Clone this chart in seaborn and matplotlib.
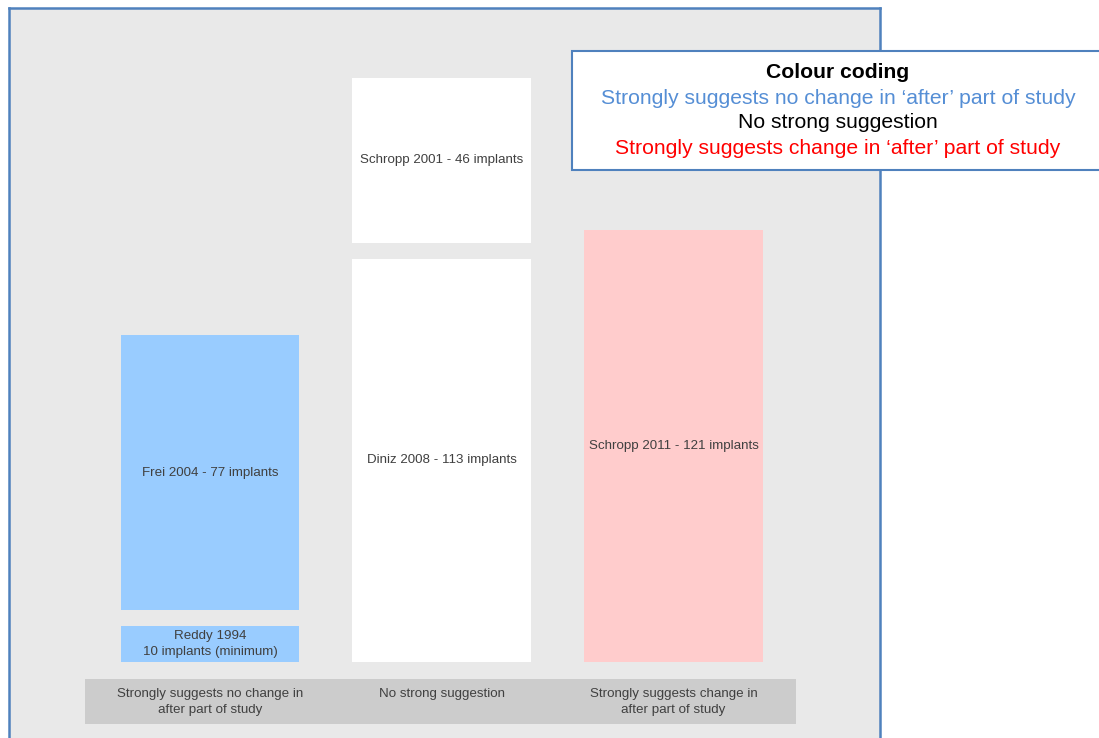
import matplotlib
matplotlib.use("Agg")
import matplotlib.pyplot as plt
from matplotlib.patches import Rectangle
import pandas as pd
import seaborn as sns

# Evidence groups and the studies stacked in each column
categories = [
    "Strongly suggests no change in\nafter part of study",
    "No strong suggestion",
    "Strongly suggests change in\nafter part of study",
]
group_colours = ["#99ccff", "#ffffff", "#ffcccc"]

lower_labels = ["Reddy 1994\n10 implants (minimum)", "Diniz 2008 - 113 implants", "Schropp 2011 - 121 implants"]
lower_implants = [10, 113, 121]

upper_labels = ["Frei 2004 - 77 implants", "Schropp 2001 - 46 implants", None]
upper_implants = [77, 46, None]

legend_title = "Colour coding"
legend_lines = [
    ("Strongly suggests no change in \u2018after\u2019 part of study", "#558ed5"),
    ("No strong suggestion", "#000000"),
    ("Strongly suggests change in \u2018after\u2019 part of study", "#ff0000"),
]

sns.set_theme(style="white")
plain = ["Liberation Sans", "DejaVu Sans"]
plt.rcParams["font.family"] = plain

W, H = 1099, 738
fig = plt.figure(figsize=(W / 100, H / 100), dpi=100)
fig.patch.set_facecolor("white")
ax = fig.add_axes([9 / W, 0, (880 - 9) / W, (H - 8) / H])
ax.set_facecolor("#e9e9e9")

border = "#4f81bd"
for side in ("left", "top", "right"):
    ax.spines[side].set_color(border)
    ax.spines[side].set_linewidth(1.8)
ax.spines["bottom"].set_visible(False)

gap = 4.5
width = 0.77
label_size = 9.6
label_colour = "#404040"

lower = pd.DataFrame({"group": categories, "implants": lower_implants})
sns.barplot(data=lower, x="group", y="implants", hue="group", order=categories,
            hue_order=categories, palette=group_colours, saturation=1,
            width=width, dodge=False, legend=False, linewidth=0, ax=ax, zorder=3)

# upper studies sit on top of the lower ones, separated by a small gap
for i, (lab, val) in enumerate(zip(upper_labels, upper_implants)):
    if val is None:
        continue
    base = lower_implants[i] + gap
    ax.bar(i, val, bottom=base, width=width, color=group_colours[i], linewidth=0, zorder=3)
    ax.text(i, base + val / 2, lab, ha="center", va="center", fontsize=label_size,
            color=label_colour, zorder=4)

for i, (lab, val) in enumerate(zip(lower_labels, lower_implants)):
    ax.text(i, val / 2, lab, ha="center", va="center", fontsize=label_size,
            color=label_colour, zorder=4, linespacing=1.45)

# grey category band below the bars
ax.add_patch(Rectangle((-0.539, -17.4), 3.068, 12.64, facecolor="#cccccc",
                       edgecolor="none", zorder=2))
for i, lab in enumerate(categories):
    ax.text(i, -7.2, lab, ha="center", va="top", fontsize=label_size, color=label_colour,
            zorder=4, linespacing=1.45)

ax.set_xlim(-0.867, 2.891)
ax.set_ylim(-21.3, 183.2)
ax.set_xticks([])
ax.set_yticks([])
ax.set_xlabel("")
ax.set_ylabel("")

# colour key box in the upper right
box = Rectangle((572 / W, (H - 170) / H), (1115 - 572) / W, 119 / H,
                transform=fig.transFigure, facecolor="white", edgecolor=border,
                linewidth=1.5, zorder=10, clip_on=False)
fig.add_artist(box)
fig.text(838 / W, 1 - 73 / H, legend_title, ha="center", va="center",
         fontsize=15.2, fontweight="bold", color="black", zorder=11)
for k, (txt, col) in enumerate(legend_lines):
    fig.text(838 / W, 1 - (98 + 25 * k) / H, txt, ha="center", va="center",
             fontsize=15.2, color=col, zorder=11)

fig.savefig("out.png", dpi=100)
